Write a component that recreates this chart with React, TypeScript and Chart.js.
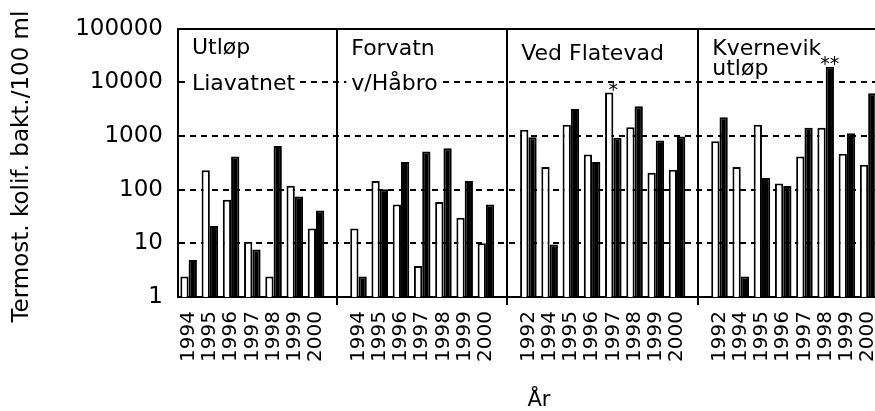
import React, { useEffect, useRef } from 'react';
import { Chart, registerables } from 'chart.js';

Chart.register(...registerables);

// ---- data ----
const panelNames: string[][] = [
  ['Utløp', 'Liavatnet'],
  ['Forvatn', 'v/Håbro'],
  ['Ved Flatevad'],
  ['Kvernevik', 'utløp'],
];

const panel1Years = ['1994', '1995', '1996', '1997', '1998', '1999', '2000'];
const panel2Years = ['1994', '1995', '1996', '1997', '1998', '1999', '2000'];
const panel3Years = ['1992', '1994', '1995', '1996', '1997', '1998', '1999', '2000'];
const panel4Years = ['1992', '1994', '1995', '1996', '1997', '1998', '1999', '2000'];

const panel1White = [2.4, 230, 65, 10.7, 2.4, 119, 19];
const panel1Black = [4.9, 21, 417, 7.7, 650, 75, 41];
const panel2White = [19, 145, 53, 3.8, 59, 30, 10];
const panel2Black = [2.4, 102, 327, 517, 595, 145, 53];
const panel3White = [1310, 265, 1620, 455, 6460, 1465, 208, 236];
const panel3Black = [955, 9.5, 3210, 327, 930, 3600, 828, 980];
const panel4White = [805, 265, 1620, 130, 417, 1425, 470, 293];
const panel4Black = [2240, 2.4, 165, 117, 1425, 19600, 1130, 6300];

const yTicks = [1, 10, 100, 1000, 10000, 100000];

const yTitle = 'Termost. kolif. bakt./100 ml';
const xTitle = 'År';

// asterisk notes: panel index, year, series (0 = white, 1 = black)
const notes = [
  { panel: 2, year: '1997', series: 0, text: '*' },
  { panel: 3, year: '1998', series: 1, text: '**' },
];

// ---- build category table ----
const panelYears = [panel1Years, panel2Years, panel3Years, panel4Years];
const panelWhite = [panel1White, panel2White, panel3White, panel4White];
const panelBlack = [panel1Black, panel2Black, panel3Black, panel4Black];

const labels: string[] = [];
const whiteData: (number | null)[] = [];
const blackData: (number | null)[] = [];
const panelStart: number[] = [];
const gapIndex = new Set<number>();

const pushGap = () => {
  gapIndex.add(labels.length);
  labels.push('');
  whiteData.push(null);
  blackData.push(null);
};

panelYears.forEach((years, p) => {
  if (p > 0) pushGap();
  panelStart.push(labels.length);
  years.forEach((y, i) => {
    labels.push(y);
    whiteData.push(panelWhite[p][i]);
    blackData.push(panelBlack[p][i]);
  });
});
pushGap(); // closing slot of the last panel (outside the visible page)

// text layout per panel (baseline of first line below chart top, line gap)
const panelTextLayout = [
  { first: 25, gap: 36 },
  { first: 26, gap: 35 },
  { first: 31, gap: 0 },
  { first: 26, gap: 20 },
];

const annotationPlugin = {
  id: 'panelAnnotations',
  afterDatasetsDraw(chart: any) {
    const { ctx, chartArea, scales } = chart;
    const x = scales.x;
    ctx.save();
    ctx.font = '22px "DejaVu Sans"';
    ctx.textAlign = 'left';
    ctx.textBaseline = 'alphabetic';
    const items: { t: string; px: number; by: number; w: number }[] = [];
    panelNames.forEach((lines, p) => {
      const left = p === 0 ? chartArea.left : x.getPixelForValue(panelStart[p] - 1);
      const px = left + 14;
      const lay = panelTextLayout[p];
      lines.forEach((t, i) => {
        const by = chartArea.top + lay.first + i * lay.gap;
        items.push({ t, px, by, w: ctx.measureText(t).width });
      });
    });
    ctx.fillStyle = '#ffffff';
    items.forEach((it) => ctx.fillRect(it.px - 5, it.by - 17, it.w + 10, 21));
    ctx.fillStyle = '#000000';
    items.forEach((it) => ctx.fillText(it.t, it.px, it.by));

    // asterisks
    ctx.font = '19px "DejaVu Sans"';
    ctx.textAlign = 'center';
    notes.forEach((n) => {
      const idx = panelStart[n.panel] + panelYears[n.panel].indexOf(n.year);
      const bar = chart.getDatasetMeta(n.series).data[idx];
      if (!bar) return;
      const cx = n.series === 0 ? bar.x + bar.width / 2 : bar.x;
      ctx.fillText(n.text, cx, bar.y + 3);
    });
    ctx.restore();
  },
};

export default function App() {
  const ref = useRef<HTMLCanvasElement | null>(null);

  useEffect(() => {
    document.body.style.margin = '0';
    document.body.style.overflow = 'hidden';
    document.documentElement.style.overflow = 'hidden';
    if (!ref.current) return;
    Chart.defaults.font.family = '"DejaVu Sans"';
    Chart.defaults.color = '#000000';

    const chart = new Chart(ref.current, {
      type: 'bar',
      data: {
        labels,
        datasets: [
          {
            data: whiteData,
            backgroundColor: '#ffffff',
            borderColor: '#000000',
            borderWidth: 2,
            categoryPercentage: 0.78,
            barPercentage: 1.0,
          },
          {
            data: blackData,
            backgroundColor: '#000000',
            borderColor: '#000000',
            borderWidth: 2,
            categoryPercentage: 0.78,
            barPercentage: 1.0,
          },
        ],
      },
      options: {
        responsive: false,
        animation: false,
        devicePixelRatio: 1,
        layout: { padding: { top: 28, left: 0, right: 10, bottom: 0 } },
        plugins: {
          legend: { display: false },
          tooltip: { enabled: false },
        },
        scales: {
          x: {
            type: 'category',
            offset: true,
            grid: {
              offset: false,
              drawOnChartArea: true,
              drawTicks: true,
              tickLength: 8,
              lineWidth: 2,
              color: (c: any) => (gapIndex.has(c.index) ? '#000000' : 'rgba(0,0,0,0)'),
            },
            border: { display: true, color: '#000000', width: 2 },
            ticks: {
              autoSkip: false,
              maxRotation: 90,
              minRotation: 90,
              padding: 6,
              color: '#000000',
              font: { size: 20, family: '"DejaVu Sans"' },
            },
            title: {
              display: true,
              text: xTitle,
              color: '#000000',
              font: { size: 21, family: '"DejaVu Sans"', lineHeight: 1 },
              padding: 0,
            },
            afterFit: (scale: any) => {
              scale.height = 114;
              scale.paddingLeft = 0;
              scale.paddingRight = 0;
            },
          },
          y: {
            type: 'logarithmic',
            min: 1,
            max: 100000,
            afterBuildTicks: (scale: any) => {
              scale.ticks = yTicks.map((v) => ({ value: v }));
            },
            afterFit: (scale: any) => {
              scale.width = 178;
            },
            grid: {
              drawTicks: false,
              lineWidth: 2,
              color: (c: any) =>
                c.tick && c.tick.value === 1 ? 'rgba(0,0,0,0)' : '#000000',
            },
            border: {
              display: true,
              color: '#000000',
              width: 2,
              dash: (c: any) => (c.tick && c.tick.value === 100000 ? [] : [6, 5]),
            },
            ticks: {
              padding: 15,
              color: '#000000',
              font: { size: 23, family: '"DejaVu Sans"' },
              callback: (v: any) => String(v),
            },
            title: {
              display: true,
              text: yTitle + '\u00a0',
              color: '#000000',
              font: { size: 23, family: '"DejaVu Sans"' },
              padding: { top: 8, bottom: 0 },
            },
          },
        },
      },
      plugins: [annotationPlugin],
    } as any);

    return () => chart.destroy();
  }, []);

  return (
    <div style={{ width: 910, height: 411, overflow: 'hidden' }}>
      <canvas ref={ref} width={910} height={411} style={{ width: 910, height: 411, display: 'block' }} />
    </div>
  );
}
